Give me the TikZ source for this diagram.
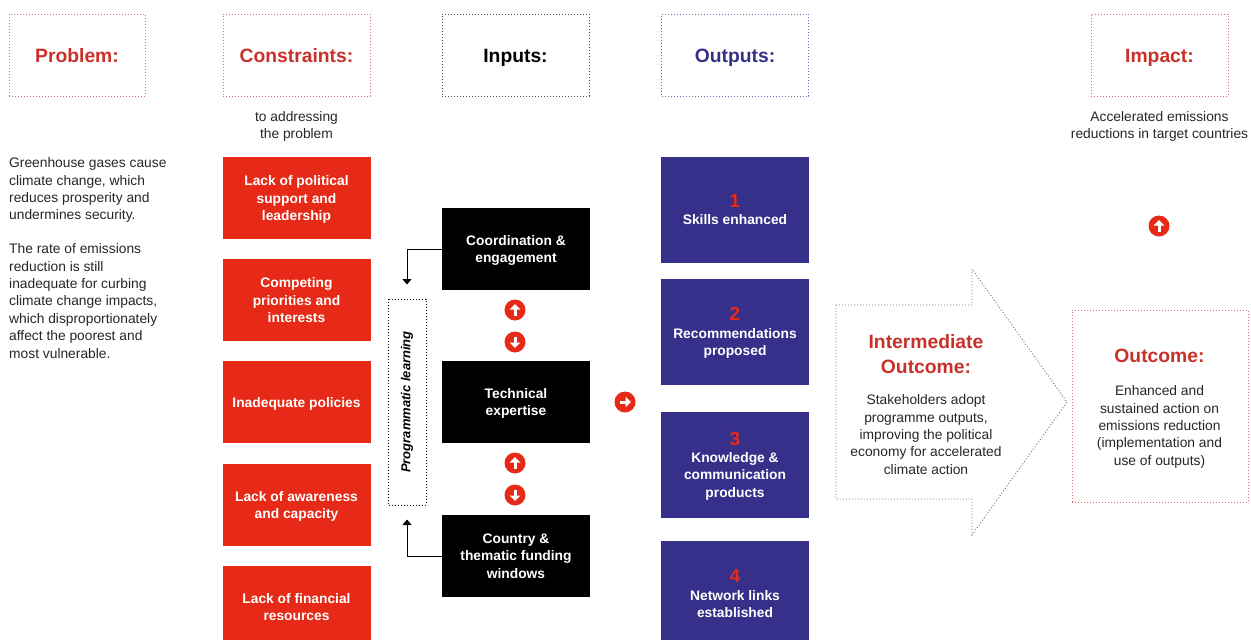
\documentclass[tikz,border=0pt]{standalone}
\usepackage{fontspec}
\setmainfont{Liberation Sans}
\usetikzlibrary{arrows.meta}
\definecolor{boxred}{HTML}{E62A17}
\definecolor{headred}{HTML}{C9302A}
\definecolor{navy}{HTML}{37308A}
\newcommand{\bodyfont}{\fontsize{13.8}{17.4}\selectfont}
\newcommand{\headfont}{\fontsize{19.3}{25}\selectfont\bfseries}
\newcommand{\numfont}{\fontsize{19}{17.4}\selectfont\bfseries\color{boxred}}
\tikzset{
  dots/.style={line width=1pt, dash pattern=on 1pt off 2pt},
  head/.style={draw=#1!70!white, dots, minimum width=147pt, minimum height=82pt, text=#1, font=\headfont, text height=14pt, text depth=0pt},
  block/.style={fill=#1, text=white, minimum width=148pt, minimum height=82pt, align=center, font=\bodyfont\bfseries, text depth=-0.5pt},
  note/.style={align=center, font=\bodyfont, text=black!85},
  bubble/.style={circle, fill=boxred, minimum size=21pt, inner sep=0pt, path picture={
      \draw[white, line width=3pt, -{Triangle[width=10.5pt,length=5.5pt]}]
        ([shift={(#1:-5.5)}]path picture bounding box.center) -- ([shift={(#1:6)}]path picture bounding box.center);}},
  link/.style={-{Triangle[width=9pt,length=5.5pt]}, line width=1pt},
}
\begin{document}
\begin{tikzpicture}[x=1pt, y=-1pt] % one pixel of the reference is one point here
  \useasboundingbox (0,0) rectangle (1251,640);
  % headers
  \node[name=problem, head=headred, minimum width=136pt] at (77,55) {Problem:};
  \node[name=constraints, head=headred] at (296.5,55) {Constraints:};
  \node[name=inputs, head=black] at (515.5,55) {Inputs:};
  \node[name=outputs, head=navy] at (735,55) {Outputs:};
  \node[name=impact, head=headred, minimum width=137pt] at (1159.5,55) {Impact:};
  \node[name=addressing, note] at (296.5,126.5) {to addressing\\the problem};
  \node[name=accelerated, note] at (1159.5,126.5) {Accelerated emissions\\reductions in target countries};
  % problem text
  \node[name=gases, note, align=left, anchor=north west, inner sep=0pt] at (9,157.5) {Greenhouse gases cause\\climate change, which\\reduces prosperity and\\undermines security.};
  \node[name=rate, note, align=left, anchor=north west, inner sep=0pt] at (9,243.5) {The rate of emissions\\reduction is still\\inadequate for curbing\\climate change impacts,\\which disproportionately\\affect the poorest and\\most vulnerable.};
  % constraints
  \node[name=c1, block=boxred] at (296.5,198) {Lack of political\\support and\\leadership};
  \node[name=c2, block=boxred] at (296.5,300) {Competing\\priorities and\\interests};
  \node[name=c3, block=boxred] at (296.5,402) {Inadequate policies};
  \node[name=c4, block=boxred] at (296.5,505) {Lack of awareness\\and capacity};
  \node[name=c5, block=boxred] at (296.5,607) {Lack of financial\\resources};
  % inputs
  \node[name=coord, block=black] at (516,249) {Coordination \&\\engagement};
  \node[name=tech, block=black] at (516,402) {Technical\\expertise};
  \node[name=fund, block=black] at (516,556) {Country \&\\thematic funding\\windows};
  \node[name=learning, draw, dots, rotate=90, minimum width=206pt, minimum height=38pt, font=\fontsize{13}{15}\selectfont\bfseries\itshape] at (407,402) {Programmatic learning};
  \draw[link, shorten >=14pt] (coord.west) -| (learning.east);
  \draw[link, shorten >=14pt] (fund.west) -| (learning.west);
  \node[name=b1, bubble=-90] at (515,310) {};
  \node[name=b2, bubble=90] at (515,342) {};
  \node[name=b3, bubble=-90] at (515,463) {};
  \node[name=b4, bubble=90] at (515,495) {};
  \node[name=b5, bubble=0] at (625,402) {};
  \node[name=b6, bubble=-90] at (1159,226) {};
  % outputs
  \node[name=o1, block=navy, text depth=1pt, minimum height=106pt] at (735,210) {{\numfont 1}\\Skills enhanced};
  \node[name=o2, block=navy, text depth=1pt, minimum height=106pt] at (735,332) {{\numfont 2}\\Recommendations\\proposed};
  \node[name=o3, block=navy, text depth=1pt, minimum height=106pt] at (735,465) {{\numfont 3}\\Knowledge \&\\communication\\products};
  \node[name=o4, block=navy, text depth=1pt, minimum height=106pt] at (735,594) {{\numfont 4}\\Network links\\established};
  % intermediate outcome and outcome
  \draw[black!55, line width=0.9pt, dash pattern=on 1pt off 2pt] (836,305) -- (972,305) -- (972,269) -- (1067,402) -- (972,535) -- (972,499) -- (836,499) -- cycle;
  \node[name=inter, align=center, text=headred, font=\fontsize{19.3}{25}\selectfont\bfseries] at (926,354) {Intermediate\\Outcome:};
  \node[name=adopt, note] at (926,434.5) {Stakeholders adopt\\programme outputs,\\improving the political\\economy for accelerated\\climate action};
  \node[name=outcome, draw=headred!70!white, dots, minimum width=176pt, minimum height=192pt] at (1160,406) {};
  \node[name=outtitle, text=headred, font=\fontsize{19.3}{25}\selectfont\bfseries] at (1159.5,356) {Outcome:};
  \node[name=enhanced, note] at (1159.5,427) {Enhanced and\\sustained action on\\emissions reduction\\(implementation and\\use of outputs)};
\end{tikzpicture}
\end{document}
